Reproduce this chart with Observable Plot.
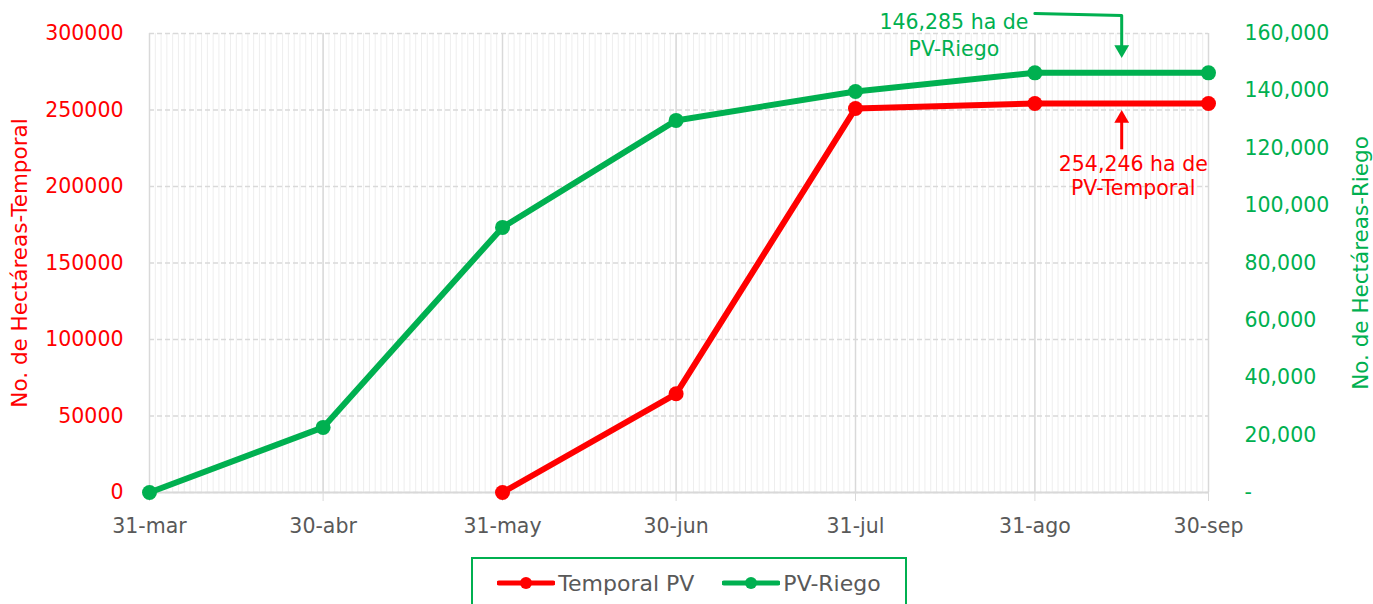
<!DOCTYPE html>
<html>
<head>
<meta charset="utf-8">
<script src="https://cdn.jsdelivr.net/npm/d3@7"></script>
<script src="https://cdn.jsdelivr.net/npm/@observablehq/plot@0.6"></script>
<style>
  html, body { margin: 0; padding: 0; background: #fff; }
  body { width: 1373px; height: 604px; overflow: hidden; font-family: "DejaVu Sans", sans-serif; }
  #legend {
    position: absolute; left: 471px; top: 557px; width: 436px; height: 52px;
    border: 2px solid #00B050; box-sizing: border-box;
    display: flex; align-items: center; justify-content: center; gap: 28px;
    font-size: 22px; color: #595959;
  }
  .item { display: flex; align-items: center; gap: 3px; }
  .item svg { display: block; }
</style>
</head>
<body>
<div id="chart"></div>
<div id="legend"></div>
<script>
// ---- data ----
const dateLabels = ["31-mar", "30-abr", "31-may", "30-jun", "31-jul", "31-ago", "30-sep"];
const dateStrings = ["2021-03-31", "2021-04-30", "2021-05-31", "2021-06-30", "2021-07-31", "2021-08-31", "2021-09-30"];
const temporalPV = [null, null, 0, 64500, 251000, 254246, 254246];   // left axis
const pvRiego = [0, 22700, 92400, 129700, 139800, 146285, 146285];    // right axis
const leftTicks = [0, 50000, 100000, 150000, 200000, 250000, 300000];
const rightTicks = [0, 20000, 40000, 60000, 80000, 100000, 120000, 140000, 160000];
const seriesNames = ["Temporal PV", "PV-Riego"];
const seriesColors = ["#FF0000", "#00B050"];
const leftTitle = "No. de Hectáreas-Temporal";
const rightTitle = "No. de Hectáreas-Riego";
// annotations (in data space: date, left-axis value)
const notes = [
  {date: "2021-08-17", v: 299500, text: "146,285 ha de\nPV-Riego", color: "#00B050", lh: 1.3},
  {date: "2021-09-17", v: 207500, text: "254,246 ha de\nPV-Temporal", color: "#FF0000", lh: 1.2}
];
const greenArrowPath = [
  {date: "2021-08-31", v: 313000},
  {date: "2021-09-15", v: 311800},
  {date: "2021-09-15", v: 290000}
];
const greenArrowTip = {date: "2021-09-15", v: 285600};
const redArrow = {date: "2021-09-15", from: 224000, to: 248400};

// ---- build ----
const parse = s => new Date(s + "T00:00:00Z");
const dates = dateStrings.map(parse);
const yMax = 300000, rMax = 160000, k = yMax / rMax;
const tempRows = dates.map((d, i) => ({date: d, v: temporalPV[i]})).filter(r => r.v != null);
const riegoRows = dates.map((d, i) => ({date: d, v: pvRiego[i] * k}));
const days = d3.utcDay.range(dates[0], d3.utcDay.offset(dates[dates.length - 1], 1));
const labelOf = new Map(dates.map((d, i) => [+d, dateLabels[i]]));
const gPath = greenArrowPath.map(p => ({date: parse(p.date), v: p.v}));
const noteMarks = notes.map(n => Plot.text([{...n, date: parse(n.date)}], {
  x: "date", y: "v", text: "text", fill: n.color, fontSize: 20.5, lineHeight: n.lh, lineAnchor: "middle"
}));

const font = "DejaVu Sans";
const chart = Plot.plot({
  width: 1373,
  height: 552,
  marginLeft: 149,
  marginRight: 165,
  marginTop: 33,
  marginBottom: 60,
  style: {fontFamily: font, fontSize: "20px", background: "#fff"},
  x: {type: "utc", domain: [dates[0], dates[dates.length - 1]]},
  y: {domain: [0, yMax]},
  marks: [
    // minor daily gridlines
    Plot.ruleX(days, {stroke: "#eeeeee", strokeWidth: 1}),
    // horizontal dashed gridlines
    Plot.ruleY(leftTicks, {stroke: "#d9d9d9", strokeWidth: 1.5, strokeDasharray: "5,3"}),
    // major month gridlines
    Plot.ruleX(dates, {stroke: "#d9d9d9", strokeWidth: 1.5}),
    Plot.ruleY([0], {stroke: "#d9d9d9", strokeWidth: 2}),
    Plot.axisX(dates, {
      tickSize: 9, tickPadding: 17, stroke: "#d9d9d9", fill: "#595959",
      tickFormat: d => labelOf.get(+d), label: null, fontSize: 20.5
    }),
    Plot.axisY(leftTicks, {
      anchor: "left", tickSize: 0, tickPadding: 26, fill: "#FF0000",
      tickFormat: d => String(d), label: null, fontSize: 20.5
    }),
    Plot.axisY(rightTicks.map(v => v * k), {
      anchor: "right", tickSize: 0, tickPadding: 36, fill: "#00B050", textAnchor: "start",
      tickFormat: d => { const v = Math.round(d / k); return v === 0 ? "-" : d3.format(",")(v); },
      label: null, fontSize: 20.5
    }),
    Plot.text([leftTitle], {frameAnchor: "left", dx: -129, rotate: -90, textAnchor: "middle", text: d => d, fill: "#FF0000", fontSize: 21.5}),
    Plot.text([rightTitle], {frameAnchor: "right", dx: 153, rotate: -90, textAnchor: "middle", text: d => d, fill: "#00B050", fontSize: 21.5}),
    // series
    Plot.line(riegoRows, {x: "date", y: "v", stroke: seriesColors[1], strokeWidth: 6}),
    Plot.dot(riegoRows, {x: "date", y: "v", fill: seriesColors[1], r: 7.5}),
    Plot.line(tempRows, {x: "date", y: "v", stroke: seriesColors[0], strokeWidth: 6}),
    Plot.dot(tempRows, {x: "date", y: "v", fill: seriesColors[0], r: 7.5}),
    // annotations
    ...noteMarks,
    Plot.line(gPath, {x: "date", y: "v", stroke: "#00B050", strokeWidth: 3, curve: "linear"}),
    Plot.dot([greenArrowTip], {x: d => parse(d.date), y: "v", symbol: "triangle", rotate: 180,
      fill: "#00B050", r: 5.5, dy: -6}),
    Plot.ruleX([redArrow], {x: d => parse(d.date), y1: "from", y2: d => d.to - 5000, stroke: "#FF0000", strokeWidth: 3}),
    Plot.dot([redArrow], {x: d => parse(d.date), y: "to", symbol: "triangle", fill: "#FF0000", r: 5.5, dy: 6})
  ]
});
document.getElementById("chart").appendChild(chart);

// legend
const legend = document.getElementById("legend");
seriesNames.forEach((name, i) => {
  const item = document.createElement("div");
  item.className = "item";
  const svg = d3.create("svg").attr("width", 58).attr("height", 16);
  svg.append("line").attr("x1", 2).attr("x2", 56).attr("y1", 8).attr("y2", 8)
    .attr("stroke", seriesColors[i]).attr("stroke-width", 5).attr("stroke-linecap", "round");
  svg.append("circle").attr("cx", 29).attr("cy", 8).attr("r", 6).attr("fill", seriesColors[i]);
  item.appendChild(svg.node());
  const span = document.createElement("span");
  span.textContent = name;
  item.appendChild(span);
  legend.appendChild(item);
});
</script>
</body>
</html>
